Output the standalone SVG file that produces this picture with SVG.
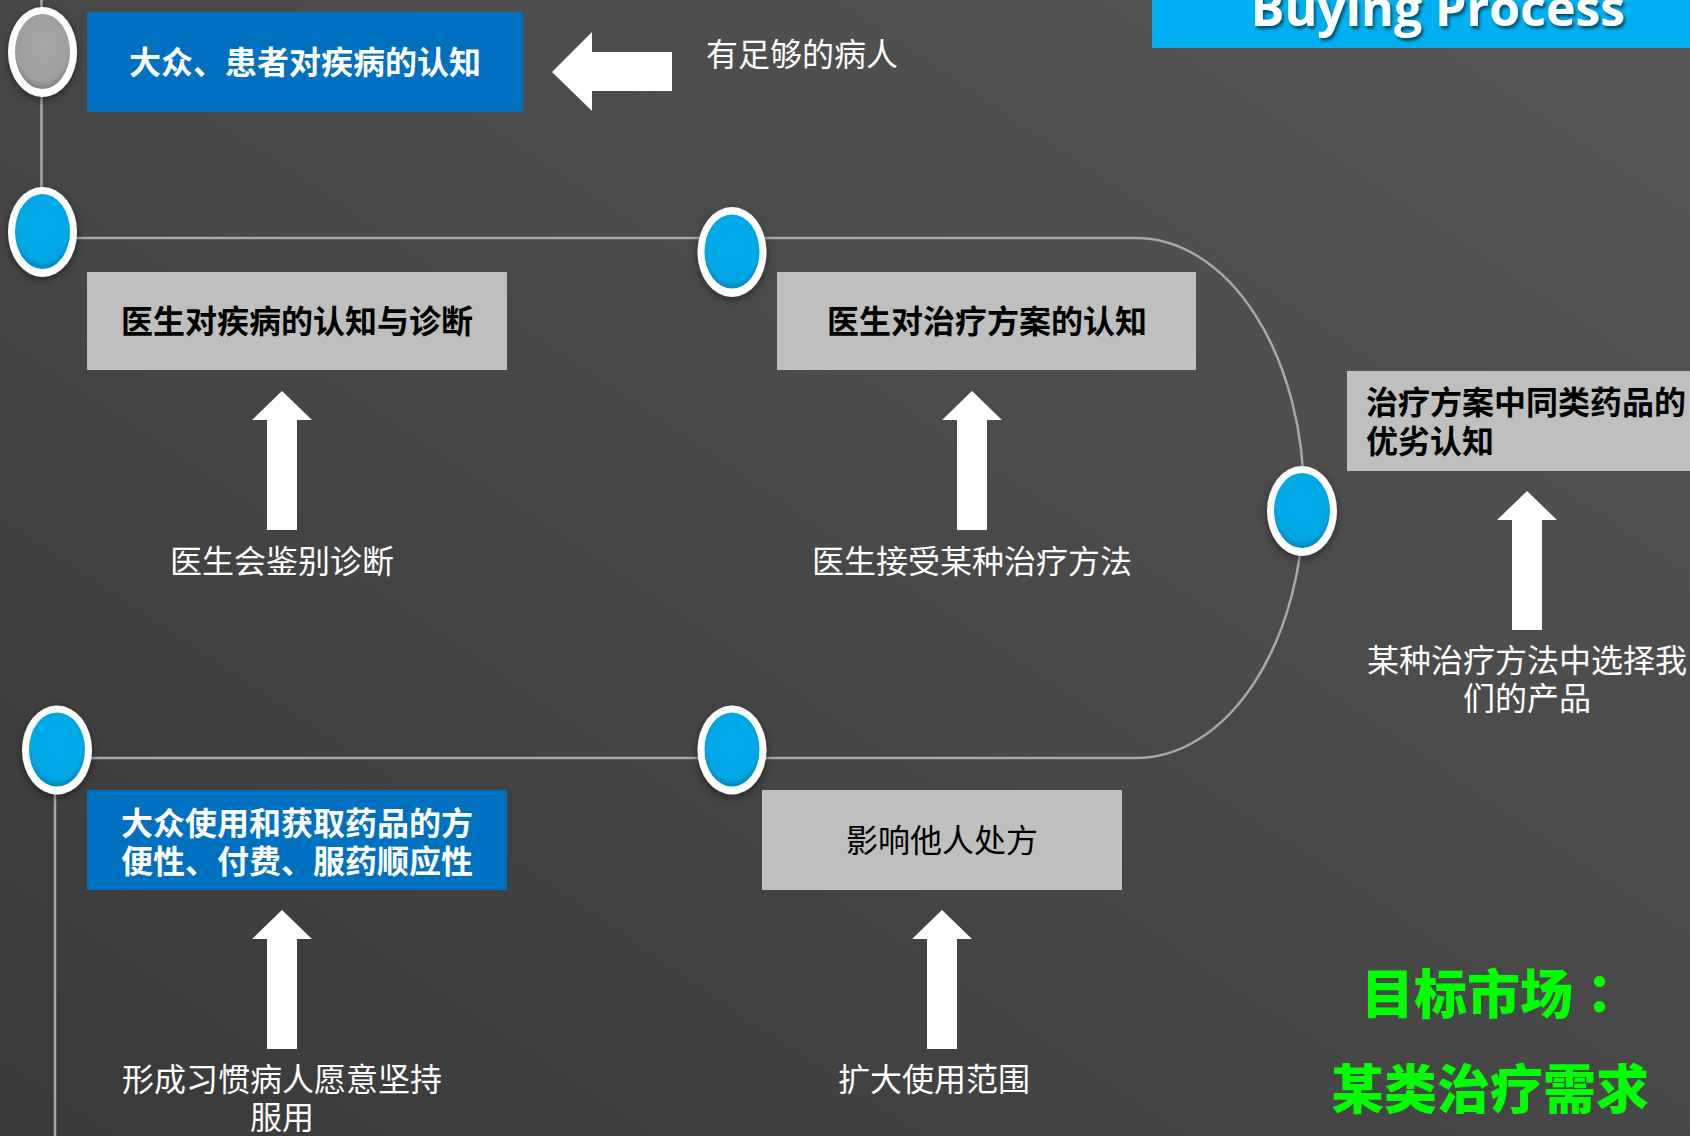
<svg xmlns="http://www.w3.org/2000/svg" width="1690" height="1136" viewBox="0 0 1690 1136">
<defs>
<linearGradient id="bg" x1="1" y1="0" x2="0" y2="1">
<stop offset="0" stop-color="#575757"/>
<stop offset="1" stop-color="#393939"/>
</linearGradient>
<radialGradient id="blueG" cx="0.5" cy="0.42" r="0.6">
<stop offset="0" stop-color="#00AEEB"/>
<stop offset="0.8" stop-color="#00A6E4"/>
<stop offset="1" stop-color="#007FB3"/>
</radialGradient>
<radialGradient id="grayG" cx="0.5" cy="0.42" r="0.6">
<stop offset="0" stop-color="#A6A6A6"/>
<stop offset="0.8" stop-color="#9E9E9E"/>
<stop offset="1" stop-color="#777777"/>
</radialGradient>
<filter id="sh" x="-30%" y="-30%" width="160%" height="160%">
<feDropShadow dx="0" dy="3" stdDeviation="4" flood-color="#000" flood-opacity="0.45"/>
</filter>
<filter id="tsh" x="-10%" y="-30%" width="120%" height="160%">
<feDropShadow dx="2" dy="3" stdDeviation="1.5" flood-color="#000" flood-opacity="0.55"/>
</filter>
<g id="upArrow">
<polygon points="0,0 30,29 15,29 15,139 -15,139 -15,29 -30,29" fill="#FFFFFF"/>
</g>
</defs>
<style>
.t { font-family: "Noto Sans CJK SC", "Noto Sans", sans-serif; font-size: 32px; }
.b { font-weight: bold; }
.w { fill: #FFFFFF; }
.k { fill: #000000; }
.m { text-anchor: middle; }
.line { fill: none; stroke: #A8A8A8; stroke-width: 2.5; }
.ring { fill: #FFFFFF; }
.gbox { fill: #BFBFBF; }
.bbox { fill: #0070C0; }
.green { font-family: "Noto Sans CJK SC", sans-serif; font-size: 53px; font-weight: 900; fill: #00FF00; }
</style>
<rect x="0" y="0" width="1690" height="1136" fill="url(#bg)"/>

<g id="title">
<rect x="1152" y="0" width="538" height="48" fill="#00B0F0"/>
<text x="1438" y="26" font-family="Open Sans, Liberation Sans, sans-serif" font-size="50" font-weight="bold" fill="#FFFFFF" text-anchor="middle" filter="url(#tsh)">Buying Process</text>
</g>

<g id="connectors">
<line class="line" x1="41.5" y1="0" x2="41.5" y2="200"/>
<path class="line" d="M 60 238 H 1136 A 168 260 0 0 1 1136 758 H 70"/>
<line class="line" x1="55" y1="780" x2="55" y2="1136"/>
</g>

<g id="arrows">
<polygon points="552,72 592,32 592,52 672,52 672,91 592,91 592,111" fill="#FFFFFF"/>
<use href="#upArrow" x="282" y="391"/>
<use href="#upArrow" x="972" y="391"/>
<use href="#upArrow" x="1527" y="491"/>
<use href="#upArrow" x="282" y="910"/>
<use href="#upArrow" x="942" y="910"/>
</g>

<g id="node1">
<ellipse class="ring" cx="42.5" cy="52" rx="34.5" ry="45" filter="url(#sh)"/>
<ellipse cx="42.5" cy="51.5" rx="27.5" ry="37.5" fill="url(#grayG)"/>
</g>
<g id="node2">
<ellipse class="ring" cx="42.5" cy="232" rx="34.5" ry="45" filter="url(#sh)"/>
<ellipse cx="42.5" cy="231.5" rx="27.5" ry="37.5" fill="url(#blueG)"/>
</g>
<g id="node3">
<ellipse class="ring" cx="732" cy="252" rx="34.5" ry="45" filter="url(#sh)"/>
<ellipse cx="732" cy="251.5" rx="27.5" ry="37" fill="url(#blueG)"/>
</g>
<g id="node4">
<ellipse class="ring" cx="1302" cy="511" rx="35" ry="45" filter="url(#sh)"/>
<ellipse cx="1302" cy="510.5" rx="28" ry="37.5" fill="url(#blueG)"/>
</g>
<g id="node5">
<ellipse class="ring" cx="732" cy="750" rx="34.5" ry="44.5" filter="url(#sh)"/>
<ellipse cx="732" cy="749.5" rx="27.5" ry="37" fill="url(#blueG)"/>
</g>
<g id="node6">
<ellipse class="ring" cx="57" cy="750" rx="35" ry="44.5" filter="url(#sh)"/>
<ellipse cx="57" cy="749.5" rx="28" ry="37" fill="url(#blueG)"/>
</g>

<g id="boxA">
<rect class="bbox" x="87" y="12" width="436" height="100"/>
<text class="t b w m" x="305" y="74">大众、患者对疾病的认知</text>
</g>
<g id="boxB">
<rect class="gbox" x="87" y="272" width="420" height="98"/>
<text class="t b k m" x="297" y="333">医生对疾病的认知与诊断</text>
</g>
<g id="boxC">
<rect class="gbox" x="777" y="272" width="419" height="98"/>
<text class="t b k m" x="987" y="333">医生对治疗方案的认知</text>
</g>
<g id="boxD">
<rect class="gbox" x="1347" y="371" width="343" height="100"/>
<text class="t b k" x="1366" y="414">治疗方案中同类药品的</text>
<text class="t b k" x="1366" y="453">优劣认知</text>
</g>
<g id="boxE">
<rect class="bbox" x="87" y="790" width="420" height="100"/>
<text class="t b w" x="121" y="835">大众使用和获取药品的方</text>
<text class="t b w" x="121" y="873">便性、付费、服药顺应性</text>
</g>
<g id="boxF">
<rect class="gbox" x="762" y="790" width="360" height="100"/>
<text class="t k m" x="942" y="852">影响他人处方</text>
</g>

<g id="labels">
<text class="t w" x="706" y="66">有足够的病人</text>
<text class="t w m" x="282" y="573">医生会鉴别诊断</text>
<text class="t w m" x="972" y="573">医生接受某种治疗方法</text>
<text class="t w m" x="1527" y="672">某种治疗方法中选择我</text>
<text class="t w m" x="1527" y="710">们的产品</text>
<text class="t w m" x="282" y="1091">形成习惯病人愿意坚持</text>
<text class="t w m" x="282" y="1129">服用</text>
<text class="t w m" x="934" y="1091">扩大使用范围</text>
</g>

<g id="target">
<text class="green" x="1361" y="1014">目标市场<tspan font-family="Noto Sans CJK TC, Noto Sans CJK SC, sans-serif">：</tspan></text>
<text class="green" x="1490" y="1109" text-anchor="middle">某类治疗需求</text>
</g>
</svg>
